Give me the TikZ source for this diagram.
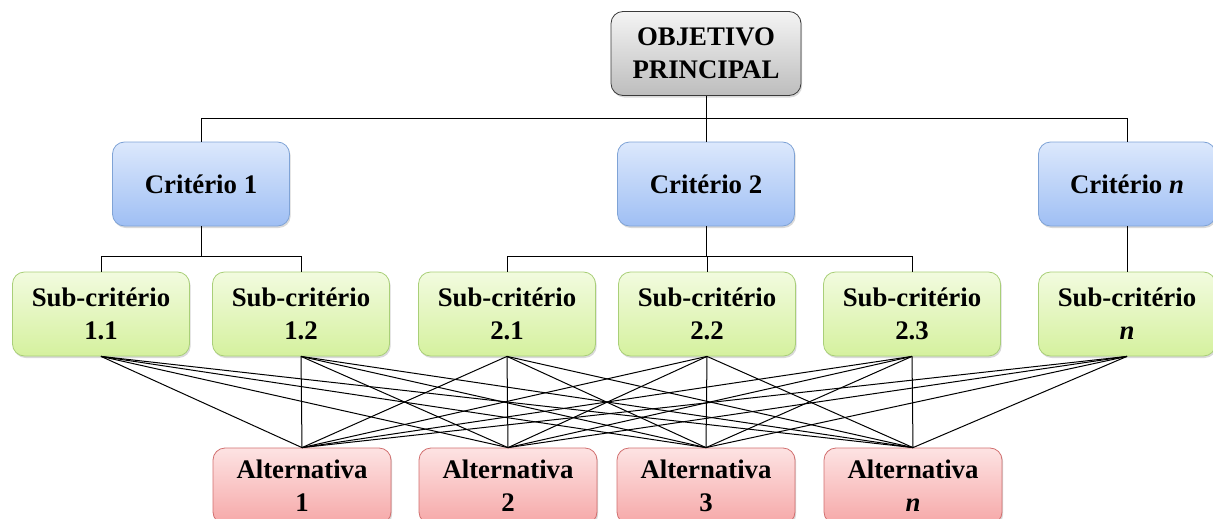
\documentclass[tikz,border=0pt]{standalone}
\usepackage{fontspec}
\setmainfont{Liberation Serif}
\usetikzlibrary{shadows}
\definecolor{bluetop}{HTML}{DCE8FC}
\definecolor{bluebot}{HTML}{9FBFF4}
\definecolor{blueline}{HTML}{7FA3D6}
\definecolor{greentop}{HTML}{F2FBDF}
\definecolor{greenbot}{HTML}{D5F19E}
\definecolor{greenline}{HTML}{A9CF78}
\definecolor{redtop}{HTML}{FDE3E3}
\definecolor{redbot}{HTML}{F6A8A8}
\definecolor{redline}{HTML}{D16F6F}
\definecolor{graytop}{HTML}{F4F4F4}
\definecolor{graybot}{HTML}{BDBDBD}
\definecolor{grayline}{HTML}{3A3A3A}
\begin{document}
\begin{tikzpicture}[x=1pt,y=-1pt,
  box/.style={rounded corners=12pt, minimum width=177pt, minimum height=84pt,
    inner sep=0pt, align=center, line width=0.8pt,
    font=\fontsize{26.8}{33}\selectfont\bfseries,
    drop shadow={shadow xshift=1.2pt, shadow yshift=-2pt, opacity=0.3}},
  objbox/.style={box, minimum width=190pt, top color=graytop, bottom color=graybot, draw=grayline},
  critbox/.style={box, top color=bluetop, bottom color=bluebot, draw=blueline},
  subbox/.style={box, top color=greentop, bottom color=greenbot, draw=greenline},
  altbox/.style={box, minimum width=178pt, top color=redtop, bottom color=redbot, draw=redline},
  conn/.style={line width=1pt, black}
]
\useasboundingbox (0,0) rectangle (1213,519);
\clip (0,0) rectangle (1213,519);

\node[objbox] (obj) at (706,53.5) {OBJETIVO\\PRINCIPAL};

\node[critbox] (c1) at (201,184) {Critério 1};
\node[critbox] (c2) at (706,184) {Critério 2};
\node[critbox] (cn) at (1127,184) {Critério \textit{n}};

\node[subbox] (s11) at (101,314) {Sub-critério\\1.1};
\node[subbox] (s12) at (301,314) {Sub-critério\\1.2};
\node[subbox] (s21) at (507,314) {Sub-critério\\2.1};
\node[subbox] (s22) at (707,314) {Sub-critério\\2.2};
\node[subbox] (s23) at (912,314) {Sub-critério\\2.3};
\node[subbox] (sn) at (1127,314) {Sub-critério\\\textit{n}};

\node[altbox, minimum height=76pt] (a1) at (302,486) {Alternativa\\1};
\node[altbox, minimum height=76pt] (a2) at (508,486) {Alternativa\\2};
\node[altbox, minimum height=76pt] (a3) at (706,486) {Alternativa\\3};
\node[altbox, minimum height=76pt] (an) at (913,486) {Alternativa\\\textit{n}};

\coordinate (j0) at (706,118);
\coordinate (j1) at (201,256);
\coordinate (j2) at (706,256);

\draw[conn] (obj.south) -- (j0);
\draw[conn] (c1.north) -- (c1.north |- j0) -- (cn.north |- j0) -- (cn.north);
\draw[conn] (c2.north) -- (c2.north |- j0);

\draw[conn] (c1.south) -- (j1);
\draw[conn] (s11.north) -- (s11.north |- j1) -- (s12.north |- j1) -- (s12.north);

\draw[conn] (c2.south) -- (j2);
\draw[conn] (s21.north) -- (s21.north |- j2) -- (s23.north |- j2) -- (s23.north);
\draw[conn] (s22.north) -- (s22.north |- j2);

\draw[conn] (cn.south) -- (sn.north);

\foreach \s in {s11,s12,s21,s22,s23,sn}
  \foreach \a in {a1,a2,a3,an}
    \draw[conn] (\s.south) -- (\a.north);
\end{tikzpicture}
\end{document}
